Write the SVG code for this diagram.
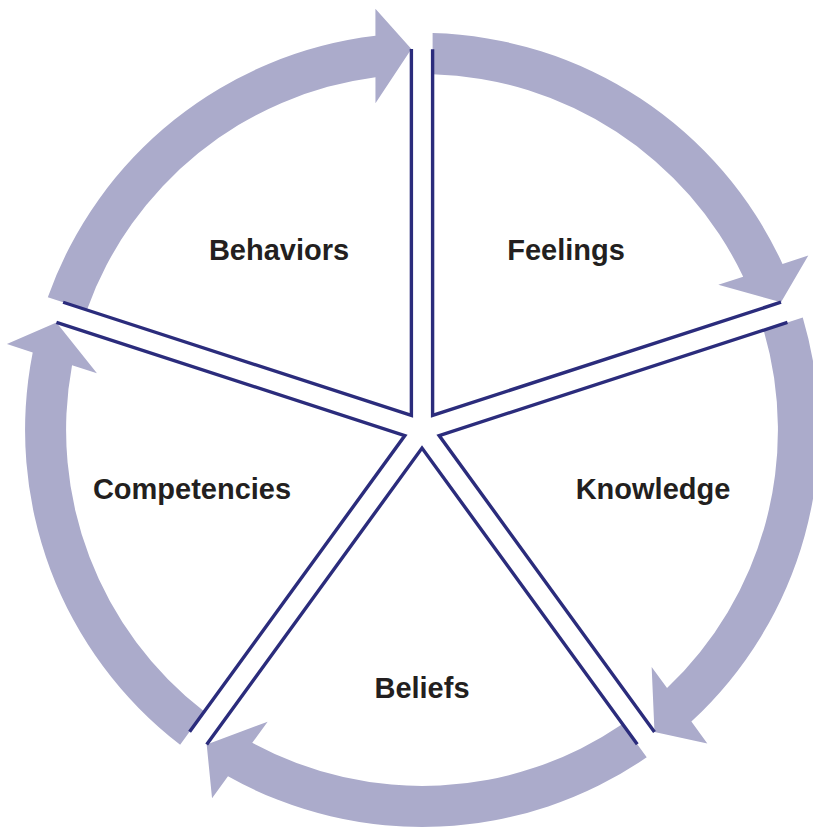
<svg xmlns="http://www.w3.org/2000/svg" width="813" height="827" viewBox="0 0 813 827">
<style>
.arrow{fill:#ABABCB;stroke:none}
.edge{fill:none;stroke:#2B2C7C;stroke-width:3.4;stroke-linejoin:miter;stroke-miterlimit:10}
.label{font-family:"Liberation Sans",Arial,sans-serif;font-weight:bold;font-size:29px;fill:#231F20;text-anchor:middle}
</style>
<defs>
<path id="arrowShape" d="M 432.6 33.1 A 397 397 0 0 1 782.5 263.9 L 808.3 255.5 L 781.0 302.2 L 718.3 284.8 L 743.2 276.7 A 356 356 0 0 0 432.6 74.2 Z"/>
<path id="edgeShape" d="M 432.6 49.2 L 432.6 415.4 L 781.0 302.2"/>
</defs>
<rect width="813" height="827" fill="#FFFFFF"/>
<g id="arrows">
<use href="#arrowShape" class="arrow"/>
<use href="#arrowShape" class="arrow" transform="rotate(72 422 430)"/>
<use href="#arrowShape" class="arrow" transform="rotate(144 422 430)"/>
<use href="#arrowShape" class="arrow" transform="rotate(216 422 430)"/>
<use href="#arrowShape" class="arrow" transform="rotate(288 422 430)"/>
</g>
<g id="feelings">
<use href="#edgeShape" class="edge"/>
<text class="label" x="566" y="260">Feelings</text>
</g>
<g id="knowledge">
<use href="#edgeShape" class="edge" transform="rotate(72 422 430)"/>
<text class="label" x="653" y="499">Knowledge</text>
</g>
<g id="beliefs">
<use href="#edgeShape" class="edge" transform="rotate(144 422 430)"/>
<text class="label" x="422" y="698">Beliefs</text>
</g>
<g id="competencies">
<use href="#edgeShape" class="edge" transform="rotate(216 422 430)"/>
<text class="label" x="192" y="499">Competencies</text>
</g>
<g id="behaviors">
<use href="#edgeShape" class="edge" transform="rotate(288 422 430)"/>
<text class="label" x="279" y="260">Behaviors</text>
</g>
</svg>
